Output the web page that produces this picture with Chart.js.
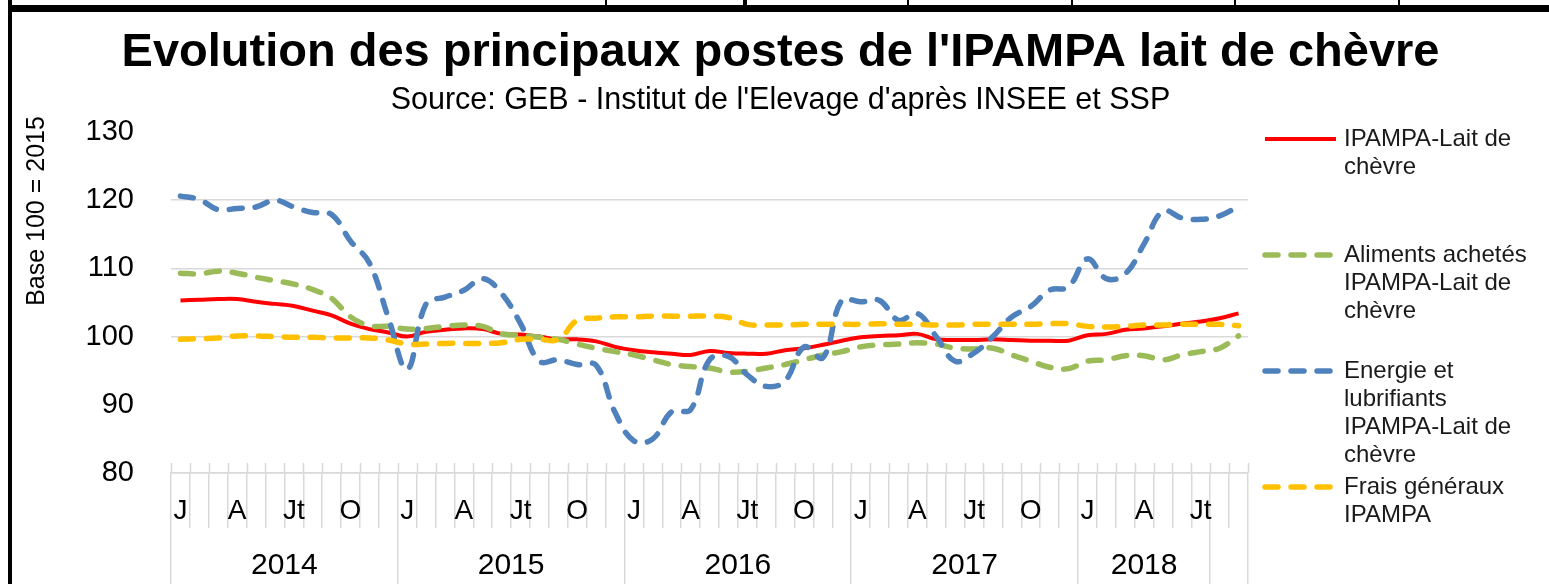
<!DOCTYPE html>
<html>
<head>
<meta charset="utf-8">
<title>IPAMPA lait de chèvre</title>
<script src="https://cdn.jsdelivr.net/npm/chart.js@4.4.1/dist/chart.umd.min.js"></script>
<style>
  html, body { margin: 0; padding: 0; background: #fff; }
  #wrap { position: relative; width: 1549px; height: 584px; overflow: hidden; }
  #chart { position: absolute; left: 0; top: 0; }
  .bar { position: absolute; background: #000; }
</style>
</head>
<body>
<div id="wrap">
  <canvas id="chart" width="1549" height="584"></canvas>
  <!-- frame left over from the page the chart was cut from -->
  <div class="bar" style="left:8px;top:5px;width:1541px;height:7px"></div>
  <div class="bar" style="left:8px;top:0;width:4px;height:584px"></div>
  <div class="bar" style="left:605px;top:0;width:2px;height:6px"></div>
  <div class="bar" style="left:743px;top:0;width:4px;height:6px"></div>
  <div class="bar" style="left:907px;top:0;width:2px;height:6px"></div>
  <div class="bar" style="left:1071px;top:0;width:2px;height:6px"></div>
  <div class="bar" style="left:1234px;top:0;width:2px;height:6px"></div>
  <div class="bar" style="left:1398px;top:0;width:2px;height:6px"></div>
</div>
<script>
// categories: years with how many months each covers (last 2 months sit in an unlabelled group)
const years = ['2014', '2015', '2016', '2017', '2018', ''];
const yearLengths = [12, 12, 12, 12, 7, 2];
const monthTicks = ['J', '', '', 'A', '', '', 'Jt', '', '', 'O', '', ''];

// monthly index values, Jan 2014 -> Sep 2018
const ipampa = [
  105.3, 105.4, 105.5, 105.5, 105.1, 104.8, 104.5, 103.8, 103.1, 101.9, 101.1, 100.6,
  100.0, 100.7, 101.0, 101.2, 101.1, 100.4, 100.3, 100.0, 99.6, 99.6, 99.3, 98.5,
  98.0, 97.7, 97.5, 97.3, 97.9, 97.6, 97.5, 97.5, 98.0, 98.3, 98.8, 99.4,
  99.9, 100.1, 100.2, 100.4, 99.6, 99.5, 99.5, 99.6, 99.5, 99.4, 99.4, 99.4,
  100.2, 100.4, 101.0, 101.2, 101.5, 101.9, 102.2, 102.7, 103.4
];
const aliments = [
  109.3, 109.2, 109.6, 109.3, 108.7, 108.2, 107.7, 106.9, 105.6, 102.9, 101.6, 101.5,
  101.1, 101.2, 101.5, 101.7, 101.5, 100.4, 100.2, 99.9, 99.6, 98.9, 98.3, 97.8,
  97.3, 96.6, 95.9, 95.6, 95.4, 94.8, 94.9, 95.4, 95.9, 96.6, 97.3, 97.8,
  98.5, 98.8, 98.9, 99.1, 98.9, 98.3, 98.2, 98.3, 97.3, 96.4, 95.5, 95.3,
  96.4, 96.6, 97.2, 97.2, 96.6, 97.3, 97.8, 98.3, 100.1
];
const energie = [
  120.6, 120.1, 118.6, 118.8, 119.0, 120.0, 119.0, 118.2, 117.9, 114.0, 110.8, 102.8,
  95.2, 104.8, 105.8, 106.8, 108.5, 106.3, 101.9, 96.4, 96.6, 95.9, 95.8, 88.9,
  84.7, 85.0, 89.0, 89.3, 96.6, 97.1, 94.4, 92.7, 93.5, 98.5, 96.9, 105.3,
  105.1, 105.3, 102.4, 103.4, 100.0, 96.4, 97.6, 100.0, 102.9, 104.4, 106.8, 107.3,
  111.4, 108.5, 109.2, 113.6, 118.4, 117.4, 117.2, 117.7, 119.1
];
const frais = [
  99.6, 99.7, 99.8, 100.1, 100.1, 100.0, 99.9, 99.9, 99.8, 99.8, 99.8, 99.5,
  98.9, 98.9, 99.0, 99.0, 99.0, 99.1, 99.6, 99.6, 99.6, 102.4, 102.7, 102.9,
  102.9, 103.0, 103.0, 103.0, 103.0, 102.8, 101.8, 101.7, 101.7, 101.8, 101.8, 101.8,
  101.8, 101.9, 101.8, 101.8, 101.7, 101.7, 101.8, 101.8, 101.8, 101.8, 101.9, 101.9,
  101.5, 101.4, 101.5, 101.7, 101.7, 101.8, 101.8, 101.8, 101.6
];
const yTicks = [80, 90, 100, 110, 120, 130];
const hiddenGrid = [90, 130];

const FONT = '"Liberation Sans", Arial, sans-serif';
const GRID = '#d9d9d9';

// month labels and the year band bounds/centres
const labels = [];
let m = 0;
yearLengths.forEach(n => {
  for (let k = 0; k < n; k++) { labels.push(monthTicks[m % 12]); m++; }
});
const yearBounds = [-0.5];
const yearCenters = [];
let start = 0;
yearLengths.forEach(n => {
  yearCenters.push(start + (n - 1) / 2);
  start += n;
  yearBounds.push(start - 0.5);
});

function dashed(label, data, color, order) {
  return {
    label, data, order,
    borderColor: color, backgroundColor: color,
    borderWidth: 5.5, borderDash: [13, 13], borderCapStyle: 'round',
    pointRadius: 0, tension: 0.4, fill: false
  };
}

// right-hand legend with wrapped labels, plus the y title and cross ticks
const sidePlugin = {
  id: 'side',
  afterDraw(chart) {
    const { ctx, chartArea } = chart;

    ctx.save();
    ctx.strokeStyle = GRID;
    ctx.lineWidth = 1.5;
    const w = (chartArea.right - chartArea.left) / labels.length;
    for (let i = 0; i <= labels.length; i++) {
      const px = Math.round(chartArea.left + i * w) + 0.5;
      ctx.beginPath();
      ctx.moveTo(px, chartArea.bottom - 10);
      ctx.lineTo(px, chartArea.bottom);
      ctx.stroke();
    }
    ctx.restore();

    ctx.save();
    ctx.translate(37, 211);
    ctx.rotate(-Math.PI / 2);
    ctx.font = '25px ' + FONT;
    ctx.fillStyle = '#000';
    ctx.textAlign = 'center';
    ctx.textBaseline = 'middle';
    ctx.fillText('Base 100 = 2015', 0, 0);
    ctx.restore();

    ctx.save();
    ctx.font = '24px ' + FONT;
    ctx.fillStyle = '#1a1a1a';
    ctx.textBaseline = 'middle';
    chart.data.datasets.forEach((ds, k) => {
      const y = chartArea.top + 7 + k * 116;
      ctx.beginPath();
      ctx.setLineDash(ds.borderDash || []);
      ctx.lineCap = ds.borderCapStyle || 'butt';
      ctx.lineWidth = ds.borderWidth;
      ctx.strokeStyle = ds.borderColor;
      ctx.moveTo(chartArea.right + 17, y);
      ctx.lineTo(chartArea.right + 88, y);
      ctx.stroke();
      const lines = [];
      let cur = '';
      ds.label.split(' ').forEach(word => {
        const test = cur ? cur + ' ' + word : word;
        if (cur && ctx.measureText(test).width > 195) { lines.push(cur); cur = word; }
        else cur = test;
      });
      lines.push(cur);
      lines.forEach((t, j) => ctx.fillText(t, chartArea.right + 96, y + j * 28));
    });
    ctx.restore();
  }
};

new Chart(document.getElementById('chart'), {
  type: 'line',
  data: {
    labels,
    datasets: [
      {
        label: 'IPAMPA-Lait de chèvre', data: ipampa, order: 4,
        borderColor: '#ff0000', backgroundColor: '#ff0000',
        borderWidth: 4, pointRadius: 0, tension: 0.4, fill: false
      },
      dashed('Aliments achetés IPAMPA-Lait de chèvre', aliments, '#9bbb59', 3),
      dashed('Energie et lubrifiants IPAMPA-Lait de chèvre', energie, '#4f81bd', 2),
      dashed('Frais généraux IPAMPA', frais, '#ffc000', 1)
    ]
  },
  options: {
    responsive: false,
    animation: false,
    events: [],
    layout: { padding: { left: 12, right: 0, top: 14, bottom: 0 } },
    plugins: {
      legend: { display: false },
      tooltip: { enabled: false },
      title: {
        display: true,
        text: "Evolution des principaux postes de l'IPAMPA lait de chèvre",
        color: '#000',
        font: { family: FONT, size: 47, weight: 'bold' },
        padding: { top: 11, bottom: 0 }
      },
      subtitle: {
        display: true,
        text: "Source: GEB - Institut de l'Elevage d'après INSEE et SSP",
        color: '#000',
        font: { family: FONT, size: 30.5 },
        padding: { top: 1, bottom: 13 }
      }
    },
    scales: {
      y: {
        min: 80, max: 130,
        afterBuildTicks: s => { s.ticks = yTicks.map(v => ({ value: v })); },
        ticks: { color: '#000', font: { family: FONT, size: 29 }, padding: 37 },
        grid: {
          drawTicks: false, lineWidth: 1.5,
          color: c => hiddenGrid.includes(c.tick && c.tick.value) ? 'rgba(0,0,0,0)' : GRID
        },
        border: { display: false },
        afterFit: s => { s.width = 159; }
      },
      yR: {
        position: 'right', display: true,
        grid: { display: false }, ticks: { display: false }, border: { display: false },
        afterFit: s => { s.width = 301; }
      },
      x: {
        type: 'category',
        offset: true,
        grid: { offset: true, drawOnChartArea: false, tickLength: 55, color: GRID, lineWidth: 1.5 },
        border: { color: GRID, width: 1.5 },
        ticks: {
          autoSkip: false, maxRotation: 0, minRotation: 0, padding: -34,
          color: '#000', font: { family: FONT, size: 28 }
        },
        afterFit: s => { s.height = 55; }
      },
      x2: {
        type: 'linear', position: 'bottom',
        min: yearBounds[0], max: yearBounds[yearBounds.length - 1],
        afterBuildTicks: s => {
          s.ticks = yearBounds.concat(yearCenters).sort((a, b) => a - b).map(v => ({ value: v }));
        },
        ticks: {
          autoSkip: false, maxRotation: 0, padding: -36,
          color: '#000', font: { family: FONT, size: 30 },
          callback: v => { const j = yearCenters.indexOf(v); return j >= 0 ? years[j] : ''; }
        },
        grid: {
          drawOnChartArea: false, tickLength: 56, lineWidth: 1.5,
          color: c => yearBounds.includes(c.tick && c.tick.value) ? GRID : 'rgba(0,0,0,0)'
        },
        border: { display: false },
        afterFit: s => { s.height = 56; }
      }
    }
  },
  plugins: [sidePlugin]
});
</script>
</body>
</html>
